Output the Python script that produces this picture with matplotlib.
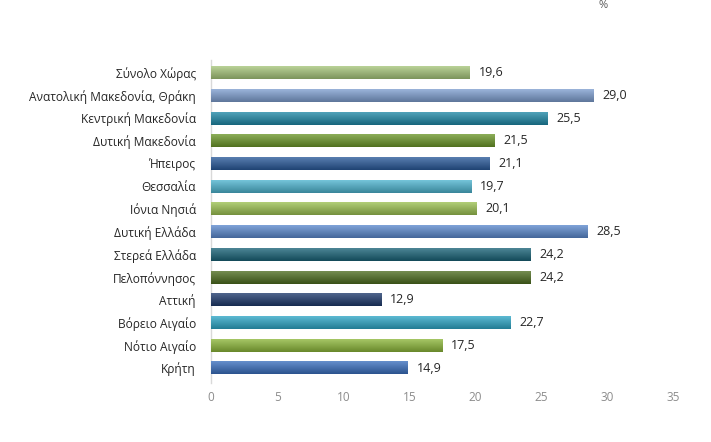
import numpy as np
import matplotlib
matplotlib.use("Agg")
import matplotlib.pyplot as plt
from matplotlib.colors import to_rgb

# ================================================================
# DATA
# ================================================================

regions = [
    "Σύνολο Χώρας",
    "Ανατολική Μακεδονία, Θράκη",
    "Κεντρική Μακεδονία",
    "Δυτική Μακεδονία",
    "Ήπειρος",
    "Θεσσαλία",
    "Ιόνια Νησιά",
    "Δυτική Ελλάδα",
    "Στερεά Ελλάδα",
    "Πελοπόννησος",
    "Αττική",
    "Βόρειο Αιγαίο",
    "Νότιο Αιγαίο",
    "Κρήτη",
]
values = [19.6, 29.0, 25.5, 21.5, 21.1, 19.7, 20.1, 28.5, 24.2, 24.2, 12.9, 22.7, 17.5, 14.9]
xticks = [0, 5, 10, 15, 20, 25, 30, 35]

colors = [
    "#A6C57A", "#7E9ECF", "#1F88A6", "#6C972A", "#2A5A9A", "#4DB3CE", "#9CC152",
    "#5B89CD", "#1A6377", "#4D6C1F", "#1F3A6C", "#2EA6C6", "#8CB63A", "#3A6FBE",
]

plt.rcParams["font.family"] = ["Open Sans", "DejaVu Sans"]

fig = plt.figure(figsize=(7.11, 4.42), dpi=100)
ax = fig.add_axes([0.297, 0.134, 0.650, 0.730])

y = np.arange(len(regions))
bar_h = 0.57
bars = ax.barh(y, values, height=bar_h, color=colors, zorder=2)

# vertical gradient over each bar: lighter top, darker bottom
for bar, c in zip(bars, colors):
    base = np.array(to_rgb(c))
    light = np.clip(base + (1 - base) * 0.22, 0, 1)
    dark = base * 0.75
    t = np.linspace(0, 1, 32)[:, None]
    grad = light[None, :] * (1 - t) + dark[None, :] * t
    x0, y0 = bar.get_x(), bar.get_y()
    w, h = bar.get_width(), bar.get_height()
    ax.imshow(grad[:, None, :], extent=(x0, x0 + w, y0 + h, y0),
              aspect="auto", zorder=3, interpolation="bilinear")
    bar.set_alpha(0)

for yi, v in zip(y, values):
    ax.text(v + 0.65, yi, f"{v:.1f}".replace(".", ","), va="center", ha="left",
            fontsize=9, color="#262626", zorder=4)

ax.set_xlim(0, 35)
ax.set_ylim(len(regions) - 0.35, -0.55)
ax.set_xticks(xticks)
ax.set_xticklabels([str(t) for t in xticks], color="#8C8C8C", fontsize=8.5)
ax.set_yticks(y)
ax.set_yticklabels(regions, fontsize=8.6, color="#262626")
ax.tick_params(axis="both", length=0)
ax.tick_params(axis="x", pad=6)
ax.tick_params(axis="y", pad=11)

for s in ["top", "right", "bottom"]:
    ax.spines[s].set_visible(False)
ax.spines["left"].set_color("#D9D9D9")
ax.spines["left"].set_linewidth(1.0)

fig.text(603 / 711, 1.0, "%", fontsize=8, color="#595959",
         ha="center", va="top")

plt.savefig("out.png", dpi=100)
